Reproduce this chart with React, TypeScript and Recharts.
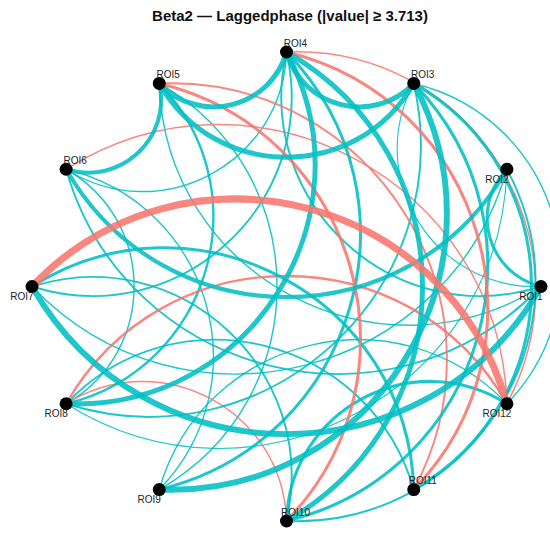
import React from "react";
import { ComposedChart, Line, Scatter, XAxis, YAxis } from "recharts";

// Nodes in layout order (counter-clockwise, ROI1 at 3 o'clock)
const NODE_NAMES = [
  "ROI1", "ROI2", "ROI3", "ROI4", "ROI5", "ROI6",
  "ROI7", "ROI8", "ROI9", "ROI10", "ROI11", "ROI12",
];

// Edges above threshold: endpoints (1-based ROI index) and signed value
const EDGE_FROM = [
  3, 4, 3, 5, 2, 1, 4, 1, 4, 4, 3, 4, 3, 1, 4, 1, 3, 1, 1, 3, 2, 2, 5, 5, 6, 6, 7, 7, 8, 9, 10, 2, 3,
  7, 4, 4, 5, 5, 6, 8, 8,
];
const EDGE_TO = [
  4, 5, 5, 6, 6, 6, 6, 7, 9, 8, 9, 10, 10, 4, 7, 2, 11, 3, 5, 8, 8, 7, 9, 8, 9, 8, 10, 11, 11, 12, 12, 10, 12,
  12, 12, 11, 11, 10, 12, 12, 10,
];
const EDGE_VALUE = [
  6.2, 6.2, 6.2, 5.6, 5.6, 4.3, 4.0, 6.8, 5.0, 6.2, 6.8, 6.2, 5.0, 4.3, 4.3, 5.0, 5.0, 3.8, 4.0, 4.3, 3.8, 4.0, 4.0, 4.6, 4.0, 4.0, 4.3, 5.0, 4.3, 4.0, 5.0, 4.3, 4.0,
  -7.5, -4.0, -5.0, -4.3, -5.0, -4.0, -4.6, -4.0,
];

const THRESHOLD = 3.713;
const TITLE = `Beta2 \u2014 Laggedphase (|value| \u2265 ${THRESHOLD})`;

const POS = "#00BFC4";
const NEG = "#F8766D";
const ARC_BEND = 0.29; // sagitta / chord length

// circular layout position of node k (0-based)
const nodePoint = (k: number) => {
  const a = (k * 2 * Math.PI) / NODE_NAMES.length;
  return { x: Math.cos(a), y: Math.sin(a), name: NODE_NAMES[k] };
};

const nodes = NODE_NAMES.map((_, k) => nodePoint(k));

const edges = EDGE_FROM.map((f, i) => {
  const a = Math.min(f, EDGE_TO[i]) - 1;
  const b = Math.max(f, EDGE_TO[i]) - 1;
  return { id: `e${i}`, value: EDGE_VALUE[i], data: [nodes[a], nodes[b]] };
}).sort((p, q) => Math.abs(p.value) - Math.abs(q.value));

const edgeWidth = (v: number) => 1 + (Math.abs(v) - THRESHOLD) * 1.6;

// d3-style curve factory: circular arc bending to the left of travel
function arcCurve(context: any) {
  let pts: number[][] = [];
  return {
    areaStart() {},
    areaEnd() {},
    lineStart() {
      pts = [];
    },
    point(x: number, y: number) {
      pts.push([+x, +y]);
    },
    lineEnd() {
      if (pts.length < 2) return;
      const [x1, y1] = pts[0];
      const [x2, y2] = pts[pts.length - 1];
      const dx = x2 - x1;
      const dy = y2 - y1;
      const len = Math.hypot(dx, dy) || 1;
      const ux = dx / len;
      const uy = dy / len;
      const nx = uy;
      const ny = -ux;
      const th = 2 * Math.atan(2 * ARC_BEND);
      const r = len / (2 * Math.sin(th));
      const h = (4 / 3) * Math.tan(th / 2) * r;
      const c = Math.cos(th);
      const s = Math.sin(th);
      context.moveTo(x1, y1);
      context.bezierCurveTo(
        x1 + h * (c * ux + s * nx),
        y1 + h * (c * uy + s * ny),
        x2 + h * (-c * ux + s * nx),
        y2 + h * (-c * uy + s * ny),
        x2,
        y2
      );
    },
  };
}

const LABEL_BELOW = new Set(["ROI1", "ROI2", "ROI7", "ROI8", "ROI9", "ROI12"]);

const NodeShape = (props: any) => {
  const { cx, cy, payload } = props;
  const below = LABEL_BELOW.has(payload.name);
  return (
    <g>
      <circle cx={cx} cy={cy} r={6.5} fill="#000" />
      <text
        x={cx + (below ? -10 : 9)}
        y={cy + (below ? 10 : -9)}
        textAnchor="middle"
        dominantBaseline="central"
        fontSize={10}
        fill="#222"
        fontFamily="'Liberation Sans', Arial, sans-serif"
      >
        {payload.name}
      </text>
    </g>
  );
};

export default function App() {
  return (
    <div style={{ position: "absolute", left: 0, top: 0, width: 550, height: 534, background: "#fff" }}>
      <div
        style={{
          position: "absolute",
          top: 7,
          left: 0,
          width: 580,
          textAlign: "center",
          fontFamily: "'Liberation Sans', Arial, sans-serif",
          fontWeight: "bold",
          fontSize: 15,
          color: "#111",
        }}
      >
        {TITLE}
      </div>
      <ComposedChart width={550} height={534} margin={{ top: 52, right: 9, bottom: 13, left: 32 }}>
        <XAxis type="number" dataKey="x" domain={[-1, 1]} hide />
        <YAxis type="number" dataKey="y" domain={[-1, 1]} hide />
        {edges.map((e) => (
          <Line
            key={e.id}
            data={e.data}
            dataKey="y"
            type={arcCurve as any}
            stroke={e.value > 0 ? POS : NEG}
            strokeOpacity={0.88}
            strokeWidth={edgeWidth(e.value)}
            dot={false}
            activeDot={false}
            isAnimationActive={false}
          />
        ))}
        <Scatter data={nodes} shape={NodeShape} isAnimationActive={false} />
      </ComposedChart>
    </div>
  );
}
